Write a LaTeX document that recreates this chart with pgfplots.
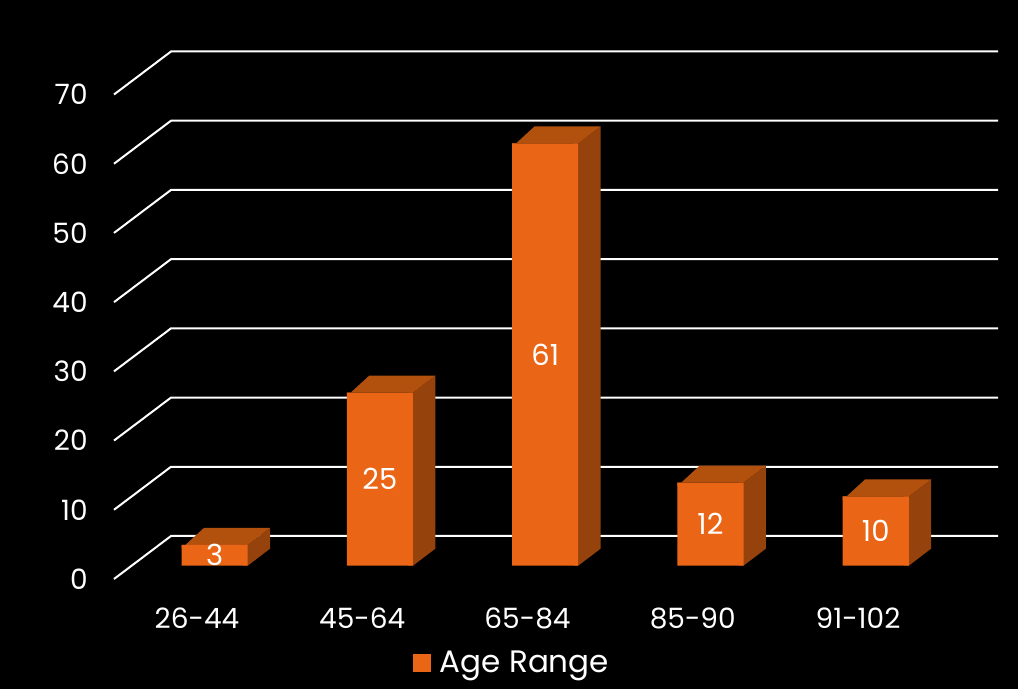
\documentclass[border=0pt]{standalone}
\usepackage{pgfplots}
\pgfplotsset{compat=1.18}
\usepackage{pgfplotstable}
\usepackage{fontspec}
\setmainfont{Poppins}
\usetikzlibrary{backgrounds}
\definecolor{frontc}{RGB}{234,102,22}
\definecolor{topc}{RGB}{178,80,14}
\definecolor{sidec}{RGB}{150,66,12}
\newcommand{\lblfont}{\fontsize{14.5}{17}\selectfont}
\newcommand{\tickfont}{\fontsize{14}{17}\selectfont}
\newcommand{\legfont}{\fontsize{15.5}{18}\selectfont}
\begin{document}
\begin{tikzpicture}[show background rectangle, background rectangle/.style={fill=black, draw=none}, inner frame sep=0pt]
\begin{axis}[
  scale only axis,
  width=442pt, height=263.75pt,
  xmin=-0.609, xmax=4.740,
  ymin=-1.922, ymax=74.29,
  clip=false,
  axis line style={draw=none},
  tick style={draw=none},
  major tick length=0pt,
  ytick pos=left, xtick pos=bottom,
  ytick={-1.922,8.078,18.078,28.078,38.078,48.078,58.078,68.078},
  yticklabels={0,10,20,30,40,50,60,70},
  xtick={-0.107,0.893,1.893,2.893,3.893},
  xticklabels={26-44,45-64,65-84,85-90,91-102},
  yticklabel style={anchor=east, inner sep=0pt, xshift=-13pt, text=white, font=\tickfont},
  xticklabel style={anchor=north, inner sep=0pt, yshift=-14.3pt, text=white, font=\tickfont},
  /pgf/number format/assume math mode=true,
  legend style={at={(rel axis cs:0.449,-0.160)}, anchor=center, draw=none, fill=none,
    text=white, font=\legfont, inner sep=0pt,
    nodes={inner sep=0pt},
    /tikz/every odd column/.append style={column sep=4.5pt}},
  legend image code/.code={\fill[frontc] (0pt,-4.5pt) rectangle (9pt,4.5pt);},
]
\coordinate (bgbl) at (rel axis cs:-0.12896,-0.20853);
\coordinate (bgtr) at (rel axis cs:1.02262,1.09763);
% grid lines (front edge to back wall)
\pgfplotsforeachungrouped \g in {0,10,20,30,40,50,60,70}{
  \pgfmathsetmacro\yf{\g-1.922}
  \pgfmathsetmacro\yb{\g+4.292}
  \edef\tmp{\noexpand\addplot[white, line width=1pt, forget plot] coordinates {(-0.609,\yf) (-0.264,\yb) (4.740,\yb)};}
  \tmp
}
% 3D faces of bars (side face overlaps under the front face to avoid seams)
\pgfplotsforeachungrouped \c/\v in {0/3, 1/25, 2/61, 3/12, 4/10}{
  \pgfmathsetmacro\xl{\c-0.2}
  \pgfmathsetmacro\xr{\c+0.2}
  \pgfmathsetmacro\xri{\c+0.17}
  \pgfmathsetmacro\xb{\c+0.335}
  \pgfmathsetmacro\xlb{\c-0.065}
  \pgfmathsetmacro\vb{\v+2.456}
  \pgfmathsetmacro\vi{\v-0.5}
  \edef\tmp{\noexpand\addplot[draw=none, fill=sidec, forget plot] coordinates {(\xri,0) (\xr,0) (\xb,2.456) (\xb,\vb) (\xr,\v) (\xri,\v)};
  \noexpand\addplot[draw=none, fill=topc, forget plot] coordinates {(\xl,\vi) (\xl,\v) (\xr,\v) (\xb,\vb) (\xlb,\vb)};}
  \tmp
}
% front faces
\addplot[ybar, bar width=0.4, bar shift=0pt, fill=frontc, draw=none] coordinates {(0,3) (1,25) (2,61) (3,12) (4,10)};
\addlegendentry{Age Range}
% value labels
\addplot[draw=none, forget plot, nodes near coords, point meta=explicit symbolic,
  nodes near coords style={anchor=center, inner sep=0pt, text=white, font=\lblfont}]
  coordinates {(0,1.5)[3] (1,12.5)[25] (2,30.5)[61] (3,6)[12] (4,5)[10]};
\end{axis}
\pgfresetboundingbox
\path (bgbl) rectangle (bgtr);
\end{tikzpicture}
\end{document}
